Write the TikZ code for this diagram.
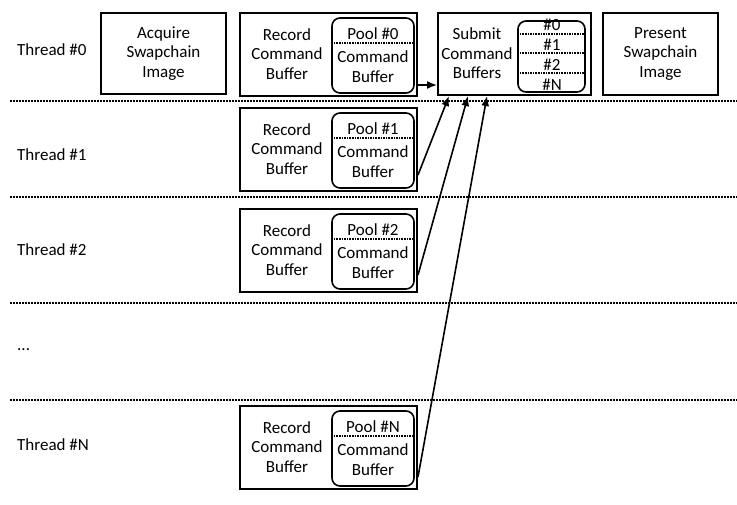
\documentclass[tikz,border=0pt]{standalone}
\usepackage{fontspec}
\setmainfont{Carlito}
\usetikzlibrary{arrows.meta}
\begin{document}
\begin{tikzpicture}[x=1pt, y=-1pt, >={Latex[length=10pt,width=8pt]},
		every node/.style={font=\fontsize{17}{19.5}\selectfont, align=center, inner sep=0pt},
		stagebox/.style={draw, line width=2pt},
		poolbox/.style={draw, line width=1.6pt, rounded corners=8pt, minimum width=82pt, minimum height=75pt},
		sepline/.style={line width=2pt, densely dotted},
		subline/.style={line width=1.6pt, densely dotted},
		feed/.style={->, line width=1.6pt}]
	\useasboundingbox (0,0) rectangle (737,504);
	% thread lanes
	\foreach \ly in {101, 197, 303, 400}
		\draw[sepline] (10,\ly) -- (737,\ly);
	\node[anchor=west] (th0) at (17,50) {Thread \#0};
	\node[anchor=west] (th1) at (17,155) {Thread \#1};
	\node[anchor=west] (th2) at (17,250) {Thread \#2};
	\node[anchor=west] (thd) at (17,350) {...};
	\node[anchor=west] (thN) at (17,445) {Thread \#N};
	% main thread stages
	\node[stagebox, minimum width=125pt, minimum height=81pt] (acq) at (163.5,53.5) {Acquire\\Swapchain\\Image};
	\node[stagebox, minimum width=115pt, minimum height=82pt] (pre) at (660.5,54) {Present\\Swapchain\\Image};
	\node[stagebox, minimum width=153pt, minimum height=82pt] (sub) at (514.5,54) {};
	\node (subtxt) at (477,53.5) {Submit\\Command\\Buffers};
	\node[poolbox, minimum width=67pt, minimum height=71pt] (subpool) at (551.5,56.5) {};
	\foreach \c/\cy in {0/25, 1/45, 2/65, N/85}
		\node (cb\c) at (552,\cy) {\#\c};
	\foreach \dy in {34, 53, 73}
		\draw[subline] (subpool.west |- 0,\dy) -- (subpool.east |- 0,\dy);
	% record stages, one per thread
	\foreach \t/\ty in {0/13, 1/108, 2/209, N/406} {
		\node[stagebox, minimum width=177pt, minimum height=83pt] (rec\t) at (328.5,\ty+41.5) {};
		\node (rtxt\t) at (287,\ty+41) {Record\\Command\\Buffer};
		\node[poolbox] (pool\t) at (373,\ty+42.5) {};
		\node (ptitle\t) at (373,\ty+20.5) {Pool \#\t};
		\draw[subline] ([yshift=-25.5pt]pool\t.north west) -- ([yshift=-25.5pt]pool\t.north east);
		\node (pbuf\t) at (373,\ty+53.5) {Command\\Buffer};
	}
	% submissions
	\coordinate (f0) at ([yshift=12pt]rec0.south east);
	\draw[feed] (f0) -- (f0 -| sub.west);
	\draw[feed] ([yshift=17pt]rec1.south east) -- ([xshift=12pt]sub.south west);
	\draw[feed] ([yshift=18pt]rec2.south east) -- ([xshift=31pt]sub.south west);
	\draw[feed] ([yshift=13pt]recN.south east) -- ([xshift=50pt]sub.south west);
\end{tikzpicture}
\end{document}
